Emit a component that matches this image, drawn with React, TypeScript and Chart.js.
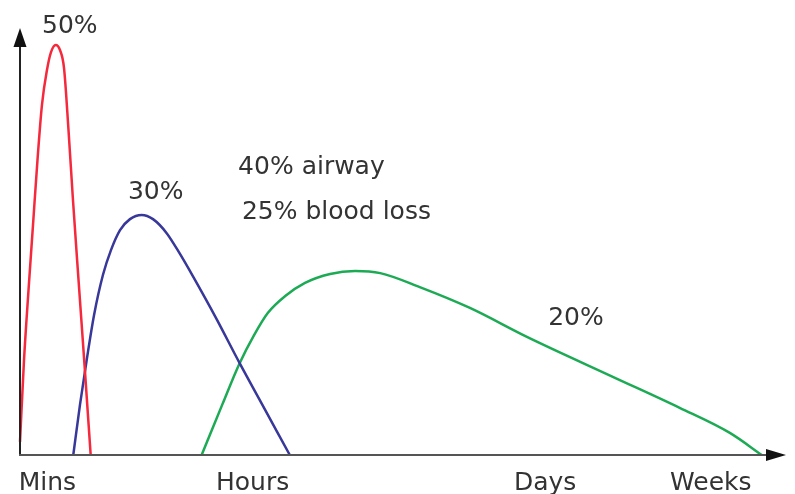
import React, { useEffect, useRef } from "react";
import { Chart, registerables } from "chart.js";

Chart.register(...registerables);

// Time axis (arbitrary units 0-100) and death rate (0-100)
const tickLabels = ["Mins", "Hours", "Days", "Weeks"];
const tickPositions = [3.6, 30.6, 69.1, 90.9];

const immediateX = [0, 0.53, 1.12, 1.71, 2.3, 2.89, 3.55, 4.08, 4.7, 5.26, 5.79, 6.38, 6.97, 7.7, 8.49, 9.3];
const immediateY = [3.1, 22.4, 38.8, 54.1, 69.4, 82.4, 90.6, 94.8, 96.5, 95.3, 91.1, 76.5, 60.0, 41.2, 21.2, 0];

const earlyX = [7.01, 7.89, 8.78, 9.74, 10.92, 11.97, 13.16, 14.47, 16.01, 17.5, 19.3, 21.05, 22.8, 25.8, 28.9, 32.2, 35.5];
const earlyY = [0, 11.8, 22.4, 32.9, 42.4, 48.2, 52.9, 55.5, 56.5, 55.5, 52.2, 47.3, 41.9, 32.2, 21.6, 10.8, 0];

const lateX = [23.9, 26.6, 28.9, 30.8, 32.6, 34.9, 37.5, 40.8, 44.1, 47.4, 52.6, 59.2, 66.7, 78.0, 86.8, 93.4, 97.6];
const lateY = [0, 11.8, 21.6, 28.2, 33.4, 37.4, 40.5, 42.6, 43.3, 42.8, 39.5, 34.6, 27.8, 18.4, 11.1, 5.2, 0];

const annotationTexts = ["50%", "30%", "40% airway", "25% blood loss", "20%"];
const annotationX = [2.9, 14.2, 28.7, 29.2, 69.5];
const annotationY = [99.3, 60.2, 66.1, 55.5, 30.6];

const FONT = "'DejaVu Sans', sans-serif";
const TEXT = "#333333";

const toPoints = (xs: number[], ys: number[]) => xs.map((x, i) => ({ x, y: ys[i] }));

const axesPlugin = {
  id: "arrowAxes",
  afterDatasetsDraw(chart: any) {
    const { ctx, chartArea } = chart;
    const x0 = chartArea.left;
    const y0 = chartArea.bottom;
    ctx.save();
    // y axis
    ctx.strokeStyle = "#222";
    ctx.fillStyle = "#111";
    ctx.lineWidth = 2;
    ctx.beginPath();
    ctx.moveTo(x0, y0 + 1);
    ctx.lineTo(x0, chartArea.top + 15);
    ctx.stroke();
    ctx.beginPath();
    ctx.moveTo(x0, chartArea.top - 2);
    ctx.lineTo(x0 - 6.5, chartArea.top + 17);
    ctx.lineTo(x0 + 6.5, chartArea.top + 17);
    ctx.closePath();
    ctx.fill();
    // x axis
    ctx.strokeStyle = "#555";
    ctx.beginPath();
    ctx.moveTo(x0 - 1, y0);
    ctx.lineTo(chartArea.right - 10, y0);
    ctx.stroke();
    ctx.beginPath();
    ctx.moveTo(chartArea.right + 6, y0);
    ctx.lineTo(chartArea.right - 14, y0 - 6);
    ctx.lineTo(chartArea.right - 14, y0 + 6);
    ctx.closePath();
    ctx.fill();
    // annotations
    const xs = chart.scales.x;
    const ys = chart.scales.y;
    ctx.fillStyle = TEXT;
    ctx.font = `25px ${FONT}`;
    ctx.textAlign = "left";
    ctx.textBaseline = "alphabetic";
    annotationTexts.forEach((t, i) => {
      ctx.fillText(t, xs.getPixelForValue(annotationX[i]), ys.getPixelForValue(annotationY[i]));
    });
    ctx.restore();
  },
};

export default function App() {
  const ref = useRef<HTMLCanvasElement | null>(null);
  useEffect(() => {
    if (!ref.current) return;
    const line = (xs: number[], ys: number[], color: string) => ({
      data: toPoints(xs, ys),
      borderColor: color,
      backgroundColor: color,
      borderWidth: 2.5,
      pointRadius: 0,
      showLine: true,
      fill: false,
      cubicInterpolationMode: "monotone" as const,
      clip: false as any,
    });
    const chart = new Chart(ref.current, {
      type: "scatter",
      data: {
        datasets: [
          line(immediateX, immediateY, "#f5283c"),
          line(earlyX, earlyY, "#38379a"),
          line(lateX, lateY, "#1daa55"),
        ],
      },
      options: {
        animation: false,
        responsive: true,
        maintainAspectRatio: false,
        layout: { padding: { left: 20, right: 15, top: 30, bottom: 0 } },
        plugins: { legend: { display: false }, tooltip: { enabled: false } },
        scales: {
          x: {
            type: "linear",
            min: 0,
            max: 100,
            grid: { display: false, drawTicks: false },
            border: { display: false },
            afterBuildTicks: (scale: any) => {
              scale.ticks = tickPositions.map((v) => ({ value: v }));
            },
            afterFit: (scale: any) => {
              scale.height = 39;
            },
            ticks: {
              autoSkip: false,
              maxRotation: 0,
              padding: 13,
              color: TEXT,
              font: { family: FONT, size: 25 },
              callback: (v: any) => {
                const i = tickPositions.indexOf(Number(v));
                return i >= 0 ? tickLabels[i] : "";
              },
            },
          },
          y: {
            type: "linear",
            min: 0,
            max: 100,
            display: false,
          },
        },
      },
      plugins: [axesPlugin],
    });
    return () => chart.destroy();
  }, []);
  return (
    <div style={{ position: "fixed", left: 0, top: 0, width: 795, height: 494, background: "#fff" }}>
      <canvas ref={ref} />
    </div>
  );
}
